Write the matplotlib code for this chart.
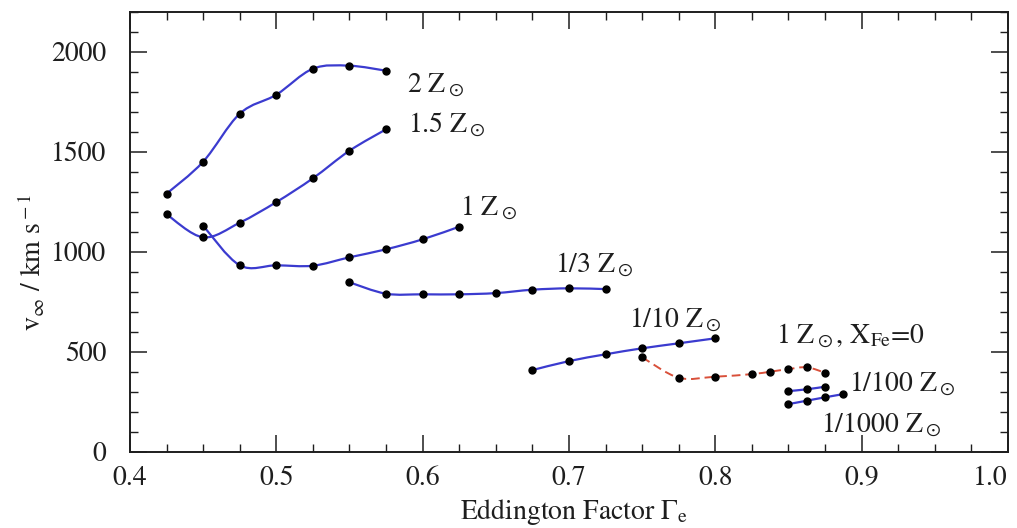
import numpy as np
import matplotlib
matplotlib.use("Agg")
import matplotlib.pyplot as plt
from matplotlib.path import Path
from matplotlib.patches import PathPatch
from matplotlib.ticker import MultipleLocator

plt.rcParams["font.family"] = "STIXGeneral"
plt.rcParams["mathtext.fontset"] = "stix"

# Terminal wind velocity vs. Eddington factor for several metallicities
gamma_2z = [0.425, 0.45, 0.475, 0.5, 0.525, 0.55, 0.575]
vinf_2z = [1290, 1450, 1690, 1785, 1915, 1930, 1905]

gamma_15z = [0.425, 0.45, 0.475, 0.5, 0.525, 0.55, 0.575]
vinf_15z = [1187, 1072, 1145, 1248, 1367, 1505, 1612]

gamma_1z = [0.45, 0.475, 0.5, 0.525, 0.55, 0.575, 0.6, 0.625]
vinf_1z = [1130, 932, 932, 930, 972, 1012, 1062, 1125]

gamma_13z = [0.55, 0.575, 0.6, 0.625, 0.65, 0.675, 0.7, 0.725]
vinf_13z = [847, 790, 787, 787, 793, 810, 817, 813]

gamma_110z = [0.675, 0.7, 0.725, 0.75, 0.775, 0.8]
vinf_110z = [408, 453, 487, 517, 542, 567]

gamma_nofe = [0.75, 0.775, 0.8, 0.825, 0.8375, 0.85, 0.8625, 0.875]
vinf_nofe = [472, 370, 375, 388, 400, 413, 422, 395]

gamma_1100z = [0.85, 0.8625, 0.875]
vinf_1100z = [303, 312, 325]

gamma_11000z = [0.85, 0.8625, 0.875, 0.8875]
vinf_11000z = [238, 255, 272, 288]

series_labels = [r"2 Z$_\odot$", r"1.5 Z$_\odot$", r"1 Z$_\odot$", r"1/3 Z$_\odot$",
                 r"1/10 Z$_\odot$", r"1 Z$_\odot$, X$_{\rm Fe}$=0",
                 r"1/100 Z$_\odot$", r"1/1000 Z$_\odot$"]
label_pos = [(0.589, 1833), (0.590, 1633), (0.6255, 1218), (0.6908, 933),
             (0.741, 658), (0.8416, 578), (0.8912, 338), (0.872, 133)]

BLUE = "#3b3bcf"
RED = "#d9503a"
INK = "#1e1e1e"
FS = 20


def smooth_path(x, y):
    """Catmull-Rom spline through the points, expressed as cubic Bezier segments."""
    p = np.column_stack([x, y]).astype(float)
    n = len(p)
    verts = [p[0]]
    codes = [Path.MOVETO]
    for i in range(n - 1):
        p0 = p[i - 1] if i > 0 else p[i]
        p1, p2 = p[i], p[i + 1]
        p3 = p[i + 2] if i + 2 < n else p[i + 1]
        c1 = p1 + (p2 - p0) / 6.0
        c2 = p2 - (p3 - p1) / 6.0
        verts += [c1, c2, p2]
        codes += [Path.CURVE4] * 3
    return Path(verts, codes)


fig = plt.figure(figsize=(10.17, 5.28), dpi=100)
ax = fig.add_axes([0.1278, 0.1445, 0.8633, 0.8333])

blue_series = [(gamma_2z, vinf_2z), (gamma_15z, vinf_15z), (gamma_1z, vinf_1z),
               (gamma_13z, vinf_13z), (gamma_110z, vinf_110z),
               (gamma_1100z, vinf_1100z), (gamma_11000z, vinf_11000z)]

for gx, vy in blue_series:
    ax.add_patch(PathPatch(smooth_path(gx, vy), facecolor="none",
                           edgecolor=BLUE, lw=1.6, zorder=2))
    ax.plot(gx, vy, ls="none", marker="o", ms=5, color="black", zorder=3)

ax.add_patch(PathPatch(smooth_path(gamma_nofe, vinf_nofe), facecolor="none",
                       edgecolor=RED, lw=1.4, ls=(0, (4.5, 2.5)), zorder=2))
ax.plot(gamma_nofe, vinf_nofe, ls="none", marker="o", ms=5, color="black", zorder=3)

for text, (gx, vy) in zip(series_labels, label_pos):
    ax.text(gx, vy, text, fontsize=FS, ha="left", va="center", color=INK)

ax.set_xlim(0.4, 1.0)
ax.set_ylim(0, 2200)
ax.xaxis.set_major_locator(MultipleLocator(0.1))
ax.xaxis.set_minor_locator(MultipleLocator(0.025))
ax.yaxis.set_major_locator(MultipleLocator(500))
ax.yaxis.set_minor_locator(MultipleLocator(100))
ax.xaxis.set_major_formatter(plt.FuncFormatter(lambda v, p: f"{v:.1f}"))

ax.tick_params(which="both", direction="in", top=True, right=True,
               colors=INK, labelsize=FS)
ax.tick_params(which="major", length=12, width=1.1)
ax.tick_params(which="minor", length=5.8, width=1.0)
ax.tick_params(axis="x", which="major", pad=10)
ax.tick_params(axis="y", which="major", pad=17)
for s in ax.spines.values():
    s.set_linewidth(1.4)
    s.set_color(INK)

ax.set_xlabel(r"Eddington Factor $\Gamma_{\rm e}$", fontsize=FS, color=INK)
ax.set_ylabel(r"v$_\infty$ / km s$^{\rm -1}$", fontsize=FS, color=INK)
ax.xaxis.set_label_coords(0.505, -0.103)
ax.yaxis.set_label_coords(-0.094, 0.43)

fig.canvas.draw()
for lab in ax.get_xticklabels():
    if lab.get_text() == "1.0":
        lab.set_horizontalalignment("right")

fig.savefig("out.png", dpi=100)
